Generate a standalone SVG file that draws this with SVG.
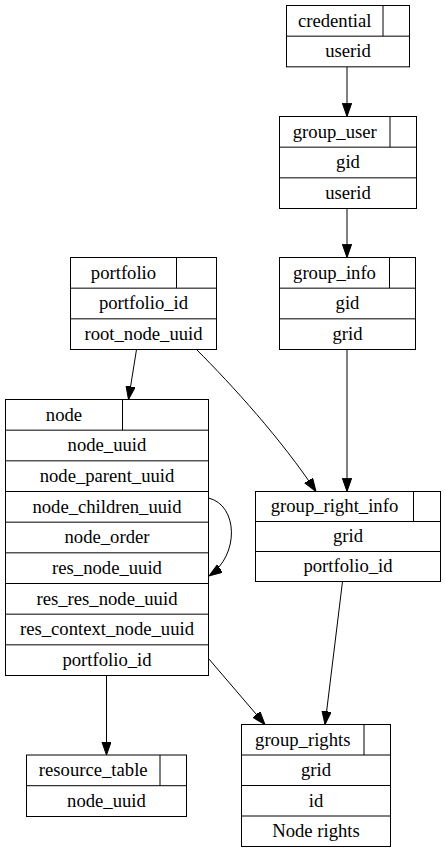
<svg xmlns="http://www.w3.org/2000/svg" width="445" height="853" viewBox="0 0 445 853" font-family="Liberation Serif, serif" font-size="18.67">
<style>
text{font-family:'Liberation Serif',serif;font-size:18.67px;text-anchor:middle;fill:#000}
.t rect{fill:#fff;stroke:#000;stroke-width:1}
.t line{stroke:#000;stroke-width:1}
.e path{fill:none;stroke:#000;stroke-width:1;marker-end:url(#arr)}
</style>
<defs>
<marker id="arr" markerUnits="userSpaceOnUse" markerWidth="14" markerHeight="10" refX="13.3" refY="4.67" orient="auto"><path d="M0,0 L13.3,4.67 L0,9.33 z" fill="#000" stroke="#000" stroke-width="1"/></marker>
</defs>
<rect width="445" height="853" fill="#fff"/>
<g id="edges" class="e">
<path d="M347,66.8 L347,116.5"/>
<path d="M347,208.5 L347,257.5"/>
<path d="M347,349.5 L347,491.5"/>
<path d="M136.5,349.5 L128.5,399.5"/>
<path d="M196.5,349.5 C232,385 282,440 316,491.5"/>
<path d="M208.5,498 C238,505 240,555 209,576"/>
<path d="M342.5,581.5 L325,724.5"/>
<path d="M208.5,658.5 L265,724.5"/>
<path d="M106.5,675.5 L106.5,755"/>
</g>
<g id="credential" class="t">
<rect x="286.5" y="5.5" width="123" height="61.33"/>
<line x1="286.5" y1="36.17" x2="409.5" y2="36.17"/>
<line x1="383" y1="5.5" x2="383" y2="36.17"/>
<text x="334.75" y="26.5">credential</text>
<text x="348" y="57.2">userid</text>
</g>
<g id="group_user" class="t">
<rect x="279.5" y="116.5" width="137" height="92"/>
<line x1="279.5" y1="147.17" x2="416.5" y2="147.17"/>
<line x1="279.5" y1="177.83" x2="416.5" y2="177.83"/>
<line x1="390" y1="116.5" x2="390" y2="147.17"/>
<text x="334.75" y="137.5">group_user</text>
<text x="348" y="168.2">gid</text>
<text x="348" y="198.8">userid</text>
</g>
<g id="portfolio" class="t">
<rect x="70.5" y="257.5" width="146" height="92"/>
<line x1="70.5" y1="288.17" x2="216.5" y2="288.17"/>
<line x1="70.5" y1="318.83" x2="216.5" y2="318.83"/>
<line x1="176.5" y1="257.5" x2="176.5" y2="288.17"/>
<text x="123.5" y="278.5">portfolio</text>
<text x="143.5" y="309.2">portfolio_id</text>
<text x="143.5" y="339.8">root_node_uuid</text>
</g>
<g id="group_info" class="t">
<rect x="279.5" y="257.5" width="136" height="92"/>
<line x1="279.5" y1="288.17" x2="415.5" y2="288.17"/>
<line x1="279.5" y1="318.83" x2="415.5" y2="318.83"/>
<line x1="389.5" y1="257.5" x2="389.5" y2="288.17"/>
<text x="334.5" y="278.5">group_info</text>
<text x="347.5" y="309.2">gid</text>
<text x="347.5" y="339.8">grid</text>
</g>
<g id="node" class="t">
<rect x="5.5" y="399.5" width="203" height="276"/>
<line x1="5.5" y1="430.17" x2="208.5" y2="430.17"/>
<line x1="5.5" y1="460.83" x2="208.5" y2="460.83"/>
<line x1="5.5" y1="491.5" x2="208.5" y2="491.5"/>
<line x1="5.5" y1="522.17" x2="208.5" y2="522.17"/>
<line x1="5.5" y1="552.83" x2="208.5" y2="552.83"/>
<line x1="5.5" y1="583.5" x2="208.5" y2="583.5"/>
<line x1="5.5" y1="614.17" x2="208.5" y2="614.17"/>
<line x1="5.5" y1="644.83" x2="208.5" y2="644.83"/>
<line x1="122.5" y1="399.5" x2="122.5" y2="430.17"/>
<text x="64" y="420.5">node</text>
<text x="107" y="451.2">node_uuid</text>
<text x="107" y="481.8">node_parent_uuid</text>
<text x="107" y="512.5">node_children_uuid</text>
<text x="107" y="543.2">node_order</text>
<text x="107" y="573.8">res_node_uuid</text>
<text x="107" y="604.5">res_res_node_uuid</text>
<text x="107" y="635.2">res_context_node_uuid</text>
<text x="107" y="665.8">portfolio_id</text>
</g>
<g id="group_right_info" class="t">
<rect x="255.5" y="491.5" width="185" height="90"/>
<line x1="255.5" y1="521.5" x2="440.5" y2="521.5"/>
<line x1="255.5" y1="551.5" x2="440.5" y2="551.5"/>
<line x1="413.5" y1="491.5" x2="413.5" y2="521.5"/>
<text x="334.5" y="512.2">group_right_info</text>
<text x="348" y="542.2">grid</text>
<text x="348" y="572.2">portfolio_id</text>
</g>
<g id="resource_table" class="t">
<rect x="26.5" y="755" width="160" height="61.5"/>
<line x1="26.5" y1="785.7" x2="186.5" y2="785.7"/>
<line x1="160" y1="755" x2="160" y2="785.7"/>
<text x="93.25" y="776">resource_table</text>
<text x="106.5" y="806.7">node_uuid</text>
</g>
<g id="group_rights" class="t">
<rect x="241.5" y="724.5" width="149" height="122"/>
<line x1="241.5" y1="755" x2="390.5" y2="755"/>
<line x1="241.5" y1="785.5" x2="390.5" y2="785.5"/>
<line x1="241.5" y1="816" x2="390.5" y2="816"/>
<line x1="364" y1="724.5" x2="364" y2="755"/>
<text x="302.75" y="745.5">group_rights</text>
<text x="316" y="776">grid</text>
<text x="316" y="806.5">id</text>
<text x="316" y="837">Node rights</text>
</g>
</svg>
